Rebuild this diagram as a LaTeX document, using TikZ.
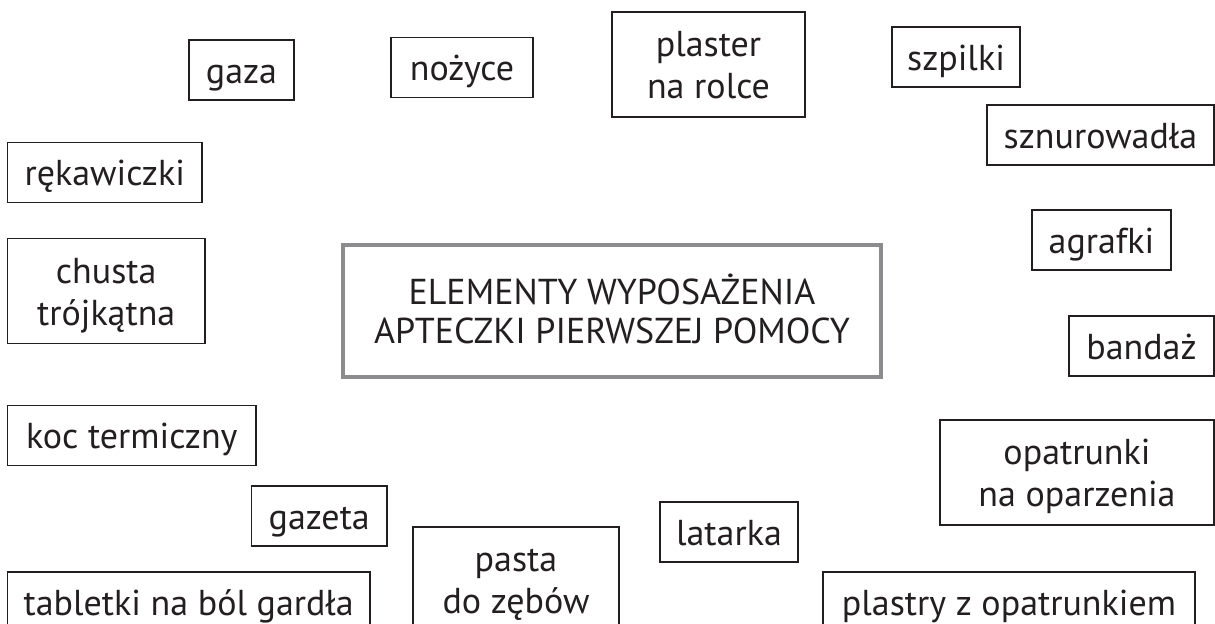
\documentclass[tikz,border=0pt]{standalone}
\usepackage{fontspec}
\setmainfont{PT Sans}
\usepackage{tikz}

\definecolor{inkblack}{HTML}{231F20}
\definecolor{framegray}{HTML}{8C8C8E}

\tikzset{
    item/.style={draw=inkblack, line width=0.6pt, inner sep=0pt, text=inkblack,
        align=center, font=\fontsize{18}{21}\selectfont,
        minimum height=30pt, text height=13pt, text depth=0pt},
    itemtwo/.style={item, minimum height=52.5pt, text height=34pt},
    titlebox/.style={draw=framegray, line width=2pt, inner sep=0pt, text=inkblack,
        align=center, font=\fontsize{18}{19.5}\selectfont,
        minimum width=269pt, minimum height=66pt, text height=32pt, text depth=0pt}
}

\begin{document}
\begin{tikzpicture}[x=0.5pt, y=-0.5pt]
    \useasboundingbox (0,0) rectangle (1215,623);
    \clip (0,0) rectangle (1215,623);

    % Centre
    \node[titlebox] (kit) at (612,311) {ELEMENTY WYPOSAŻENIA\\APTECZKI PIERWSZEJ POMOCY};

    % Top row
    \node[item, minimum width=52.5pt] (gauze) at (241.5,70) {gaza};
    \node[item, minimum width=71pt] (scissors) at (462,67.5) {nożyce};
    \node[itemtwo, minimum width=96.5pt] (tape) at (708.5,64.5) {plaster\\na rolce};
    \node[item, minimum width=64pt] (pins) at (956,57) {szpilki};

    % Left column
    \node[item, minimum width=97.25pt] (gloves) at (104.75,172.5) {rękawiczki};
    \node[itemtwo, minimum width=98.75pt] (sling) at (106.25,291) {chusta\\trójkątna};
    \node[item, minimum width=124.25pt] (blanket) at (131.75,435.5) {koc termiczny};
    \node[item, minimum width=67.75pt] (paper) at (319.25,516) {gazeta};

    % Right column
    \node[item, minimum width=113.5pt] (laces) at (1100.5,135) {sznurowadła};
    \node[item, minimum width=69.5pt] (clips) at (1101.5,240) {agrafki};
    \node[item, minimum width=72.5pt] (bandage) at (1141.5,346) {bandaż};
    \node[itemtwo, minimum width=137pt] (burns) at (1077,472.5) {opatrunki\\na oparzenia};
    \node[item, minimum width=69pt] (torch) at (729,532) {latarka};

    % Bottom row (cut by the page edge)
    \node[item, minimum width=181.25pt] (tablets) at (188.75,602) {tabletki na ból gardła};
    \node[itemtwo, minimum width=103pt] (paste) at (516,579.5) {pasta\\do zębów};
    \node[item, minimum width=186pt] (plasters) at (1009,602) {plastry z opatrunkiem};
\end{tikzpicture}
\end{document}
